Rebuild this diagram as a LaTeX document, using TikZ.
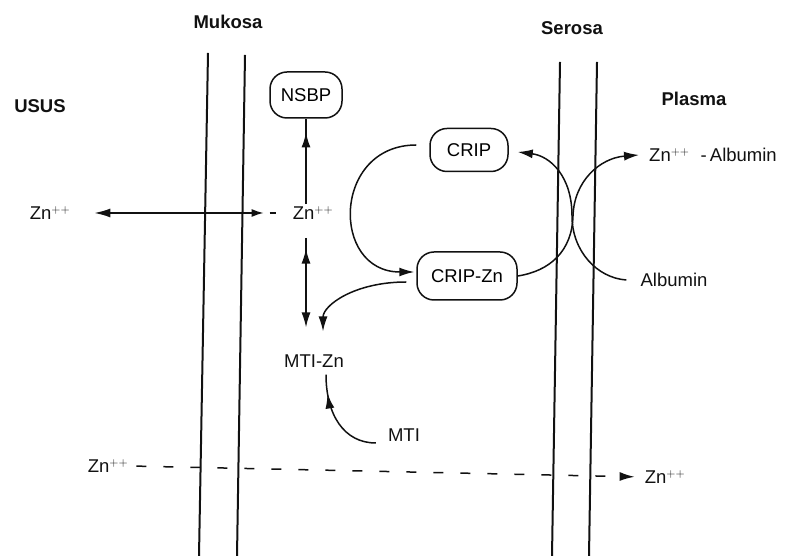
\documentclass[tikz,border=0pt]{standalone}
\usepackage{fontspec}
\setmainfont{Liberation Sans}
\usepackage{tikz}
\usetikzlibrary{arrows.meta, calc, decorations.markings}
\definecolor{ink}{HTML}{111111}

\tikzset{
  membrane/.style = {ink, line width=2pt},
  protein/.style  = {draw=ink, line width=1.5pt, rounded corners=17pt, inner sep=0pt},
  label/.style    = {text=ink, inner sep=2pt},
  region/.style   = {text=ink, font=\fontsize{18.5}{22}\selectfont\bfseries, inner sep=2pt},
  flow/.style     = {ink, line width=1.5pt},
  tip/.style      = {-{Latex[length=15pt, width=9pt]}},
  bothtip/.style  = {{Latex[length=16pt, width=9pt]}-{Latex[length=12pt, width=8pt]}},
  midtip/.style   = {postaction=decorate, decoration={markings,
                     mark=at position #1 with {\arrow{Latex[length=15pt, width=9pt]}}}},
  backtip/.style  = {postaction=decorate, decoration={markings,
                     mark=at position #1 with {\arrowreversed{Latex[length=15pt, width=9pt]}}}},
}

\begin{document}
\begin{tikzpicture}[x=1pt, y=1pt, font=\fontsize{18.5}{22}\selectfont]
    \useasboundingbox (0, 0) rectangle (786, 556);

    % membranes
    \draw[membrane] (208, 503) -- (199, 0);
    \draw[membrane] (245, 501) -- (237, 0);
    \draw[membrane] (560, 494) -- (552, 0);
    \draw[membrane] (597, 494) -- (589, 0);

    \node[region] (mukosa) at (228, 534) {Mukosa};
    \node[region] (serosa) at (572, 528) {Serosa};
    \node[region] (usus)   at (40,  450) {USUS};
    \node[region] (plasma) at (694, 457) {Plasma};

    \node[protein, minimum width=72,  minimum height=46] (nsbp)   at (306, 461) {NSBP};
    \node[protein, minimum width=78,  minimum height=43] (crip)   at (469, 406) {CRIP};
    \node[protein, minimum width=100, minimum height=48] (cripzn) at (467, 280) {CRIP-Zn};

    \node[label] (zl)    at (50,  343) {Zn$^{++}$};
    \node[label] (zm)    at (313, 343) {Zn$^{++}$};
    \node[label] (mtizn) at (314, 195) {MTI-Zn};
    \node[label] (mti)   at (404, 121) {MTI};
    \node[label] (zdl)   at (108,  90) {Zn$^{++}$};
    \node[label] (zdr)   at (665,  79) {Zn$^{++}$};
    \node[label] (znalb) at (713, 401) {Zn$^{++}$\hspace{0.6em}-\,Albumin};
    \node[label] (alb)   at (674, 276) {Albumin};

    \draw[flow, bothtip, shorten <=22pt] (zl.east) -- ($(zm.west)+(-27,0)$);
    \draw[flow] ($(zm.west)+(-21,0)$) -- ($(zm.west)+(-15,0)$);

    \draw[flow, midtip=0.84] (zm.north -| nsbp.south) -- (nsbp.south);
    \draw[flow, tip, backtip=0.12] ($(zm.south -| nsbp.south)+(0,-16)$)
        -- ($(mtizn.north -| nsbp.south)+(0,25)$);

    \draw[flow, tip] ($(cripzn.west)+(-10,-6)$)
        .. controls +(-52,0) and +(0,26) .. ($(mtizn.north)+(9,21)$);
    \draw[flow, midtip=0.8] ($(mti.west)+(-10,-8)$)
        .. controls +(-32,0) and +(0,-40) .. ($(mtizn.south)+(12,-5)$);

    \draw[flow, tip] ($(crip.west)+(-13,5)$)
        .. controls +(-84,0) and +(-84,0) .. ($(cripzn.west)+(-2,4)$);

    % crossing loops through the serosa
    \draw[flow, tip] (cripzn.east)
        .. controls (550, 285) and (572, 305) .. (573, 340)
        .. controls (574, 375) and (600, 398) .. ($(znalb.west)+(-8,0)$);
    \draw[flow, tip] ($(alb.west)+(-12,0)$)
        .. controls (597, 278) and (572, 305) .. (572, 340)
        .. controls (572, 380) and (550, 400) .. ($(crip.east)+(9,-2)$);

    \draw[flow, tip, dash pattern=on 10pt off 17pt, shorten <=6pt, shorten >=8pt]
        (zdl.east) -- (zdr.west);
\end{tikzpicture}
\end{document}
